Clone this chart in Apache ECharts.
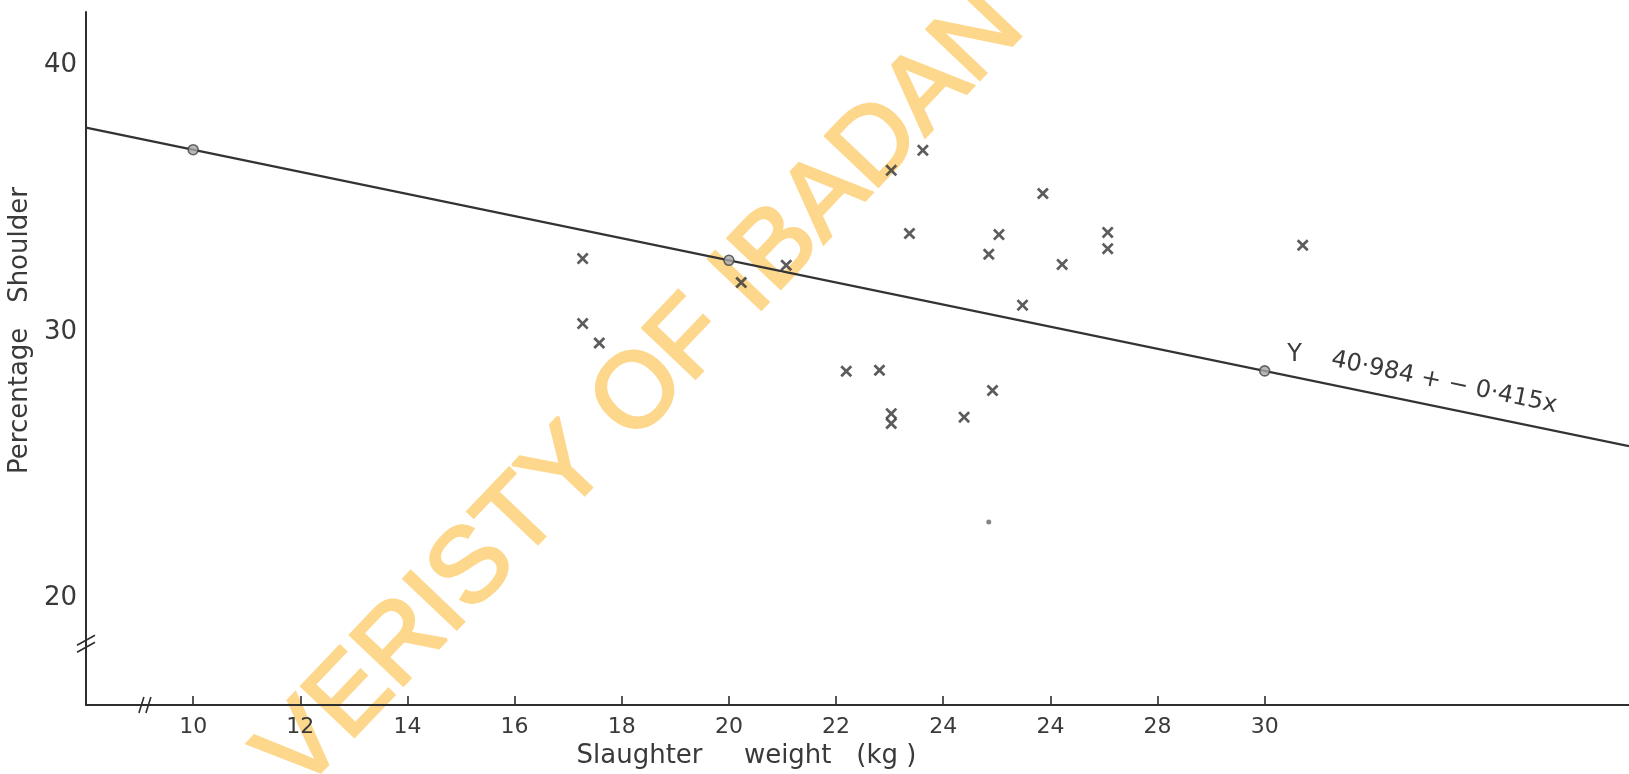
<!DOCTYPE html>
<html>
<head>
<meta charset="utf-8">
<script src="https://cdn.jsdelivr.net/npm/echarts@6/dist/echarts.min.js"></script>
<style>
  html, body { margin: 0; padding: 0; background: #ffffff; }
  #chart { width: 1629px; height: 774px; }
</style>
</head>
<body>
<div id="chart"></div>
<script>
// Axis ticks (the label under 26 kg is lettered "24" on the sheet)
const xTickValues = [10, 12, 14, 16, 18, 20, 22, 24, 26, 28, 30];
const xTickLabels = ['10', '12', '14', '16', '18', '20', '22', '24', '24', '28', '30'];
const yTickValues = [20, 30, 40];

// Individual animals: slaughter weight (kg) and shoulder percentage
const weightKg = [17.27, 17.27, 17.58, 20.23, 21.07, 22.19, 22.81, 23.03, 23.03, 23.03, 23.62,
                  23.37, 25.86, 25.04, 24.85, 26.22, 27.07, 27.07, 30.71, 25.48, 24.92, 24.39];
const shoulderPct = [32.75, 30.31, 29.58, 31.85, 32.50, 28.52, 28.56, 26.93, 26.56, 36.06, 36.81,
                     33.69, 35.19, 33.65, 32.91, 32.53, 33.73, 33.12, 33.25, 31.00, 27.80, 26.80];

// Single dot plotted without a cross
const loneDot = [24.85, 22.87];

// Regression line  Y = 40.984 + (-0.415) x
const fitIntercept = 40.984;
const fitSlope = -0.415;
const fitSpanX = [8, 36.8];
const fitMarkedX = [10, 20, 30];

const ink = '#3a3a3a';
const font = 'DejaVu Sans';

const fitY = x => fitIntercept + fitSlope * x;
const crossPath = 'path://M0,1.6L1.6,0L5,3.4L8.4,0L10,1.6L6.6,5L10,8.4L8.4,10L5,6.6L1.6,10L0,8.4L3.4,5Z';

const chart = echarts.init(document.getElementById('chart'));

chart.setOption({
  animation: false,
  backgroundColor: '#ffffff',
  grid: { left: 86, right: 0, top: 12, bottom: 69, outerBoundsMode: 'none' },
  xAxis: {
    type: 'value',
    min: 8,
    max: 36.8,
    z: 6,
    name: 'Slaughter     weight   (kg )',
    nameLocation: 'middle',
    nameGap: 38,
    nameTextStyle: { fontFamily: font, fontSize: 26, color: ink, padding: [0, 222, 0, 0] },
    axisLine: { show: true, lineStyle: { color: '#2e2e2e', width: 2 } },
    axisTick: { show: true, inside: true, length: 9, customValues: xTickValues,
                lineStyle: { color: '#2e2e2e', width: 1.6 } },
    axisLabel: {
      customValues: xTickValues,
      formatter: v => xTickLabels[xTickValues.indexOf(v)] || '',
      fontFamily: font, fontSize: 22, color: ink, margin: 11
    },
    splitLine: { show: false }
  },
  yAxis: {
    type: 'value',
    min: 16,
    max: 42,
    z: 6,
    name: 'Percentage   Shoulder',
    nameLocation: 'middle',
    nameGap: 46,
    nameTextStyle: { fontFamily: font, fontSize: 26, color: ink, padding: [0, 0, 0, 56] },
    axisLine: { show: true, lineStyle: { color: '#2e2e2e', width: 2 } },
    axisTick: { show: false },
    axisLabel: {
      customValues: yTickValues,
      fontFamily: font, fontSize: 26, color: ink, margin: 9
    },
    splitLine: { show: false }
  },
  series: [
    {
      name: 'Regression',
      type: 'line',
      data: fitSpanX.map(x => [x, fitY(x)]),
      showSymbol: false,
      lineStyle: { color: '#333333', width: 2.2 },
      z: 3
    },
    {
      name: 'Fitted points',
      type: 'scatter',
      data: fitMarkedX.map(x => [x, fitY(x)]),
      symbol: 'circle',
      symbolSize: 10,
      itemStyle: { color: '#a8a8a8', borderColor: '#444444', borderWidth: 1.6 },
      z: 4
    },
    {
      name: 'Animals',
      type: 'scatter',
      data: weightKg.map((w, i) => [w, shoulderPct[i]]),
      symbol: crossPath,
      symbolSize: 12,
      itemStyle: { color: '#333333' },
      z: 5
    },
    {
      name: 'Dot',
      type: 'scatter',
      data: [loneDot],
      symbol: 'circle',
      symbolSize: 5,
      itemStyle: { color: '#666666' },
      z: 5
    }
  ]
});

// Annotations placed from the axes' own scales
const px = p => chart.convertToPixel({ gridIndex: 0 }, p);

const eqStart = px([31.2, fitY(31.2)]);
const p1 = px([8, fitY(8)]);
const p2 = px([36.8, fitY(36.8)]);
const lineAngle = Math.atan2(p2[1] - p1[1], p2[0] - p1[0]);
const yLabel = px([30.56, fitY(30.56)]);

const xBreak = px([9.1, 16]);
const yBreak = px([8, 18.3]);

function breakMark(cx, cy, dx, dy, gap, gx, gy) {
  return [-1, 1].map(s => ({
    type: 'line',
    shape: {
      x1: cx - dx + s * gx * gap, y1: cy + dy + s * gy * gap,
      x2: cx + dx + s * gx * gap, y2: cy - dy + s * gy * gap
    },
    style: { stroke: '#2e2e2e', lineWidth: 1.6 },
    z: 10
  }));
}

chart.setOption({
  graphic: [
    {
      type: 'text',
      x: 642, y: 392,
      rotation: 0.81,
      z: -5,
      silent: true,
      style: {
        text: 'VERISTY OF IBADAN',
        fontFamily: 'Liberation Sans',
        fontSize: 106,
        fill: '#fdd78c',
        stroke: '#fdd78c',
        lineWidth: 3,
        align: 'center',
        verticalAlign: 'middle'
      }
    },
    {
      type: 'text',
      x: eqStart[0], y: eqStart[1] - 13,
      rotation: -lineAngle,
      z: 10,
      style: {
        text: '40·984 + − 0·415x',
        fontFamily: font,
        fontSize: 24,
        fill: ink,
        align: 'left',
        verticalAlign: 'bottom'
      }
    },
    {
      type: 'text',
      x: yLabel[0], y: yLabel[1] - 22,
      z: 10,
      style: {
        text: 'Y',
        fontFamily: font,
        fontSize: 24,
        fill: ink,
        align: 'center',
        verticalAlign: 'middle'
      }
    },
    ...breakMark(xBreak[0], xBreak[1], 2.5, 8, 3.5, 1, 0),
    ...breakMark(yBreak[0], yBreak[1], 9, 5, 3.5, 0, 1)
  ]
});
</script>
</body>
</html>
